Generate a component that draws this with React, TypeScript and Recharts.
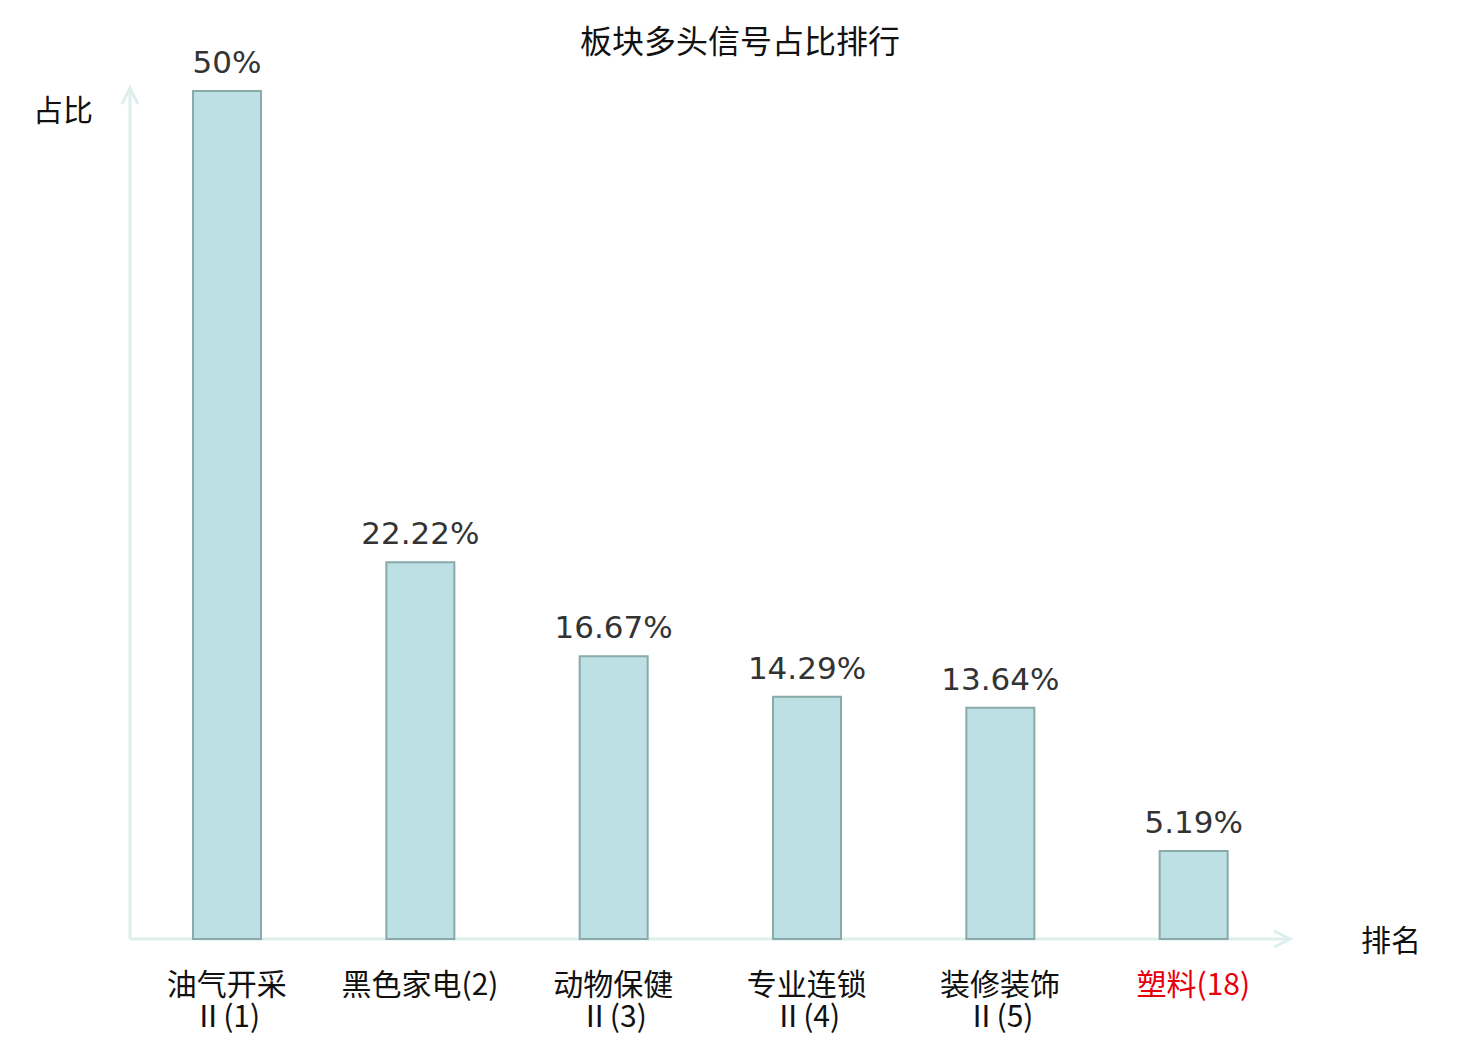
import React from "react";
import { BarChart, Bar, XAxis, YAxis, LabelList, Customized, usePlotArea } from "recharts";

const categories = ["油气开采Ⅱ(1)", "黑色家电(2)", "动物保健Ⅱ(3)", "专业连锁Ⅱ(4)", "装修装饰Ⅱ(5)", "塑料(18)"];
const shares = [50, 22.22, 16.67, 14.29, 13.64, 5.19];
const valueLabels = ["50%", "22.22%", "16.67%", "14.29%", "13.64%", "5.19%"];
const highlighted = ["塑料(18)"];

const data = categories.map((name, i) => ({ name, share: shares[i], label: valueLabels[i] }));

const CJK = "'Noto Sans CJK SC', 'DejaVu Sans', sans-serif";
const AXIS = "#dcefed";

function CategoryTick(props: any) {
  const { x, y, payload } = props;
  const text: string = payload.value;
  const color = highlighted.includes(text) ? "#e8000b" : "#111";
  const cut = text.indexOf("Ⅱ");
  const lines = cut > 0 ? [text.slice(0, cut), text.slice(cut)] : [text];
  return (
    <text x={x} y={y} textAnchor="middle" fill={color} fontFamily={CJK} fontSize={30}>
      {lines.map((l, i) => (
        <tspan key={i} x={x} dy={i === 0 ? 48 : 32}>
          {l}
        </tspan>
      ))}
    </text>
  );
}

function Frame() {
  const area = usePlotArea();
  if (!area) return null;
  const { x, y, width, height } = area;
  const bottom = y + height;
  const right = x + width;
  const top = y - 3;
  return (
    <g>
      <line x1={x} y1={bottom} x2={x} y2={top} stroke={AXIS} strokeWidth={3} />
      <polyline points={`${x - 8},${top + 16} ${x},${top} ${x + 8},${top + 16}`} fill="none" stroke={AXIS} strokeWidth={3} />
      <line x1={x} y1={bottom} x2={right} y2={bottom} stroke={AXIS} strokeWidth={3} />
      <polyline points={`${right - 16},${bottom - 8} ${right},${bottom} ${right - 16},${bottom + 8}`} fill="none" stroke={AXIS} strokeWidth={3} />
      <text x={740} y={53} textAnchor="middle" fontFamily={CJK} fontSize={32} fill="#111">
        板块多头信号占比排行
      </text>
      <text x={x - 67} y={y + 30} textAnchor="middle" fontFamily={CJK} fontSize={30} fill="#111">
        占比
      </text>
      <text x={right + 101} y={bottom + 12} textAnchor="middle" fontFamily={CJK} fontSize={30} fill="#111">
        排名
      </text>
    </g>
  );
}

export default function App() {
  return (
    <div style={{ position: "absolute", left: 0, top: 0, width: 1480, height: 1040, background: "#fff" }}>
      <BarChart
        width={1480}
        height={1040}
        data={data}
        margin={{ top: 91, right: 190, left: 130, bottom: 0 }}
        barCategoryGap="0%"
      >
        <XAxis
          dataKey="name"
          axisLine={false}
          tickLine={false}
          interval={0}
          tick={<CategoryTick />}
          height={101}
        />
        <YAxis hide domain={[0, 50]} />
        <Bar
          dataKey="share"
          barSize={68}
          fill="#bce0e3"
          stroke="#8aa9a9"
          strokeWidth={2}
          isAnimationActive={false}
        >
          <LabelList
            dataKey="label"
            position="top"
            offset={18}
            fill="#333"
            fontSize={31}
            fontFamily="'DejaVu Sans', sans-serif"
          />
        </Bar>
        <Customized component={Frame} />
      </BarChart>
    </div>
  );
}
